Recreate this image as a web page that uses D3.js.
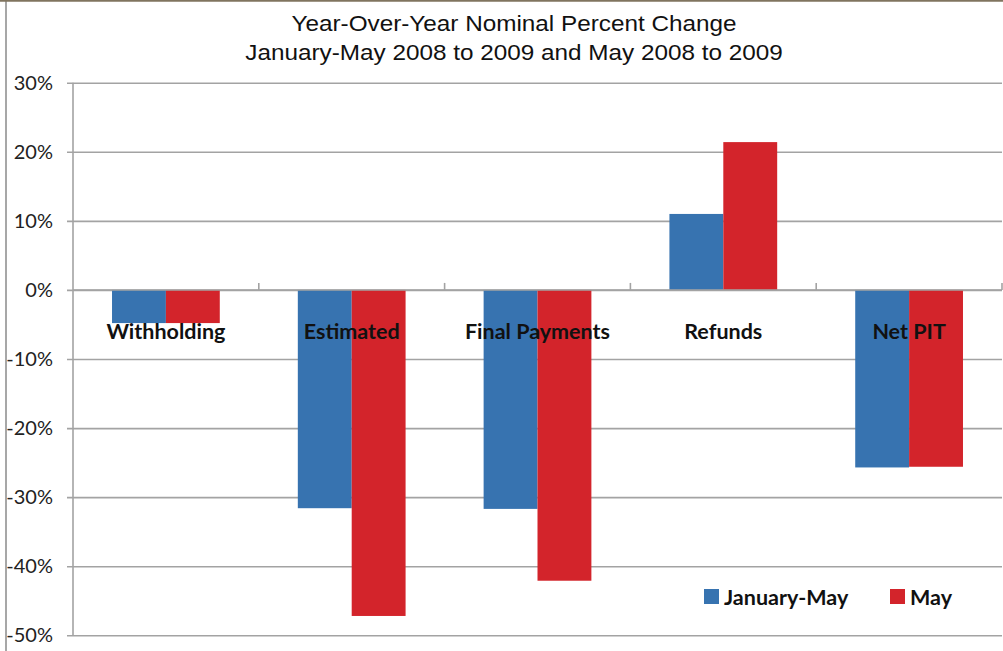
<!DOCTYPE html>
<html>
<head>
<meta charset="utf-8">
<script src="https://cdn.jsdelivr.net/npm/d3@7"></script>
<style>
  html, body { margin: 0; padding: 0; background: #fff; }
  svg { display: block; }
</style>
</head>
<body>
<svg id="chart" width="1003" height="651"></svg>
<script>
// ---- data ----
const titleLines = ["Year-Over-Year Nominal Percent Change", "January-May 2008 to 2009 and May 2008 to 2009"];
const categories = ["Withholding", "Estimated", "Final Payments", "Refunds", "Net PIT"];
const seriesNames = ["January-May", "May"];
const janMayValues = [-0.048, -0.316, -0.317, 0.110, -0.257];
const mayValues = [-0.048, -0.472, -0.421, 0.214, -0.256];
const yTicks = [0.3, 0.2, 0.1, 0, -0.1, -0.2, -0.3, -0.4, -0.5];

const colors = ["#3773b0", "#d3242b"];

const svg = d3.select("#chart");
const W = 1003, H = 651;
const plot = { left: 73, right: 1002, top: 82.7, bottom: 635.3 };

// frame
svg.append("line").attr("x1", 6).attr("x2", 6).attr("y1", 0).attr("y2", H)
  .attr("stroke", "#8a8a8a").attr("stroke-width", 1.5);
svg.append("line").attr("x1", 0).attr("x2", W).attr("y1", 0.8).attr("y2", 0.8)
  .attr("stroke", "#80745f").attr("stroke-width", 2);

// title
svg.append("g").selectAll("text").data(titleLines).join("text")
  .attr("transform", (d, i) => `translate(514,${30.5 + i * 29.5}) scale(1.08,1)`)
  .attr("text-anchor", "middle")
  .attr("font-family", "'Liberation Sans', Arial, sans-serif")
  .attr("font-size", 22.5)
  .attr("fill", "#111")
  .text(d => d);

// scales
const y = d3.scaleLinear().domain([-0.5, 0.3]).range([plot.bottom, plot.top]);
const x0 = d3.scaleBand().domain(categories).range([plot.left, plot.right])
  .paddingInner(0.42).paddingOuter(0.21);
const x1 = d3.scaleBand().domain(seriesNames).range([0, x0.bandwidth()]);

// gridlines via axis
const yAxis = d3.axisLeft(y).tickValues(yTicks)
  .tickSize(-(plot.right - plot.left) - 6)
  .tickFormat(d3.format(".0%"));
const gy = svg.append("g").attr("transform", `translate(${plot.left - 6},0)`).call(yAxis);
gy.select(".domain").remove();
gy.selectAll(".tick line").attr("stroke", "#a3a3a3").attr("stroke-width", 1.6)
  .attr("x1", 0).attr("x2", (plot.right - plot.left) + 6);
gy.selectAll(".tick text")
  .attr("x", -14)
  .attr("font-family", "Lato, 'Open Sans', sans-serif")
  .attr("font-size", 20)
  .attr("fill", "#222")
  .text(d => d3.format(".0%")(d).replace("−", "-"));

// vertical axis line
svg.append("line").attr("x1", plot.left).attr("x2", plot.left)
  .attr("y1", plot.top).attr("y2", plot.bottom)
  .attr("stroke", "#a3a3a3").attr("stroke-width", 1.6);

// bars
const rows = categories.map((c, i) => ({ cat: c, vals: [janMayValues[i], mayValues[i]] }));
const groups = svg.append("g").selectAll("g").data(rows).join("g")
  .attr("transform", d => `translate(${x0(d.cat)},0)`);
groups.selectAll("rect").data(d => d.vals.map((v, j) => ({ v, name: seriesNames[j], j })))
  .join("rect")
  .attr("x", d => x1(d.name))
  .attr("width", x1.bandwidth())
  .attr("y", d => Math.min(y(d.v), y(0)))
  .attr("height", d => Math.abs(y(d.v) - y(0)))
  .attr("fill", d => colors[d.j]);

// category axis at zero with upward boundary ticks
const step = x0.step();
const boundaries = d3.range(1, categories.length + 1).map(i => plot.left + i * step);
svg.append("line").attr("x1", plot.left).attr("x2", plot.right)
  .attr("y1", y(0)).attr("y2", y(0))
  .attr("stroke", "#a3a3a3").attr("stroke-width", 1.6);
svg.append("g").selectAll("line").data(boundaries).join("line")
  .attr("x1", d => d).attr("x2", d => d)
  .attr("y1", y(0)).attr("y2", y(0) - 7)
  .attr("stroke", "#a3a3a3").attr("stroke-width", 1.6);

// category labels
svg.append("g").selectAll("text").data(categories).join("text")
  .attr("x", d => x0(d) + x0.bandwidth() / 2)
  .attr("y", 338.5)
  .attr("text-anchor", "middle")
  .attr("font-family", "Lato, 'Open Sans', sans-serif")
  .attr("font-weight", "bold")
  .attr("font-size", 21.5)
  .attr("fill", "#111")
  .text(d => d);

// legend
const legendX = [704, 890];
const leg = svg.append("g").selectAll("g").data(seriesNames).join("g")
  .attr("transform", (d, i) => `translate(${legendX[i]},589)`);
leg.append("rect").attr("width", 15).attr("height", 15)
  .attr("fill", (d, i) => colors[i]);
leg.append("text").attr("x", 20).attr("y", 15.5)
  .attr("font-family", "Lato, 'Open Sans', sans-serif")
  .attr("font-weight", "bold")
  .attr("font-size", 21.5)
  .attr("fill", "#111")
  .text(d => d);
</script>
</body>
</html>
